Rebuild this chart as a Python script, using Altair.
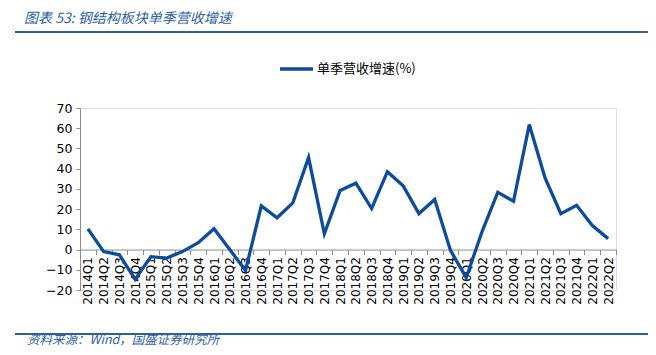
import altair as alt
import pandas as pd

quarters = [
    "2014Q1", "2014Q2", "2014Q3", "2014Q4",
    "2015Q1", "2015Q2", "2015Q3", "2015Q4",
    "2016Q1", "2016Q2", "2016Q3", "2016Q4",
    "2017Q1", "2017Q2", "2017Q3", "2017Q4",
    "2018Q1", "2018Q2", "2018Q3", "2018Q4",
    "2019Q1", "2019Q2", "2019Q3", "2019Q4",
    "2020Q1", "2020Q2", "2020Q3", "2020Q4",
    "2021Q1", "2021Q2", "2021Q3", "2021Q4",
    "2022Q1", "2022Q2",
]
growth = [
    10.2, -1.0, -2.6, -14.7,
    -3.5, -4.2, -1.0, 3.4,
    10.3, 0.0, -10.3, 21.6,
    15.7, 23.1, 45.5, 7.8,
    29.2, 32.8, 20.3, 38.5,
    31.5, 17.8, 24.8, -0.4,
    -13.9, 8.8, 28.3, 23.9,
    61.8, 35.4, 17.7, 21.9,
    11.9, 5.4,
]
y_ticks = [-20, -10, 0, 10, 20, 30, 40, 50, 60, 70]

title_text = "图表 53:  钢结构板块单季营收增速"
source_text = "资料来源：Wind，国盛证券研究所"
legend_text = "单季营收增速(%)"

df = pd.DataFrame({"q": quarters, "v": growth})

W, H = 536, 182
line_color = "#0B4C9C"
accent = "#2E5FA3"
cjk = "Noto Sans CJK SC"
# zero line sits 70/90 of the way down the plot
zero_offset = -(H * 20 / 90)

line = alt.Chart(df).mark_line(color=line_color, strokeWidth=3.3).encode(
    x=alt.X(
        "q:N",
        sort=quarters,
        bandPosition=0.5,
        scale=alt.Scale(type="band", paddingInner=0, paddingOuter=0),
        axis=alt.Axis(
            title=None,
            labelAngle=-90,
            labelFont="DejaVu Sans",
            labelFontSize=12,
            labelColor="#000000",
            labelPadding=2,
            offset=zero_offset,
            tickBand="extent",
            tickSize=5,
            tickColor="#8c8c8c",
            domainColor="#8c8c8c",
            labelOverlap=False,
        ),
    ),
    y=alt.Y(
        "v:Q",
        scale=alt.Scale(domain=[-20, 70], nice=False, zero=False),
        axis=alt.Axis(
            title=None,
            values=y_ticks,
            grid=False,
            labelFont="DejaVu Sans",
            labelFontSize=12.5,
            labelColor="#000000",
            labelPadding=4,
            tickSize=4,
            tickColor="#8c8c8c",
            domainColor="#8c8c8c",
        ),
    ),
)

title = alt.Chart(pd.DataFrame({"t": [title_text]})).mark_text(
    font=cjk, fontSize=14, fontStyle="italic", color=accent, align="left", baseline="middle"
).encode(text="t:N", x=alt.value(-56), y=alt.value(-89))

title_rule = alt.Chart(pd.DataFrame({"a": [0]})).mark_rule(color=accent, strokeWidth=2.2).encode(
    x=alt.value(-65), x2=alt.value(568), y=alt.value(-76)
)

source = alt.Chart(pd.DataFrame({"t": [source_text]})).mark_text(
    font=cjk, fontSize=12.5, fontStyle="italic", color=accent, align="left", baseline="middle"
).encode(text="t:N", x=alt.value(-53), y=alt.value(232))

source_rule = alt.Chart(pd.DataFrame({"a": [0]})).mark_rule(color=accent, strokeWidth=2.2).encode(
    x=alt.value(-65), x2=alt.value(568), y=alt.value(226)
)

legend_line = alt.Chart(pd.DataFrame({"a": [0]})).mark_rule(color=line_color, strokeWidth=3.3).encode(
    x=alt.value(200), x2=alt.value(233), y=alt.value(-39)
)

legend_label = alt.Chart(pd.DataFrame({"t": [legend_text]})).mark_text(
    font=cjk, fontSize=13, color="#000000", align="left", baseline="middle"
).encode(text="t:N", x=alt.value(237), y=alt.value(-39))

chart = alt.layer(
    line, title, title_rule, source, source_rule, legend_line, legend_label
).properties(
    width=W,
    height=H,
    autosize=alt.AutoSizeParams(type="none"),
    padding={"left": 72, "top": 100, "right": 32, "bottom": 57},
).configure_view(stroke=None).configure(background="white")

chart.save("out.html", embed_options={"renderer": "svg", "actions": False})
